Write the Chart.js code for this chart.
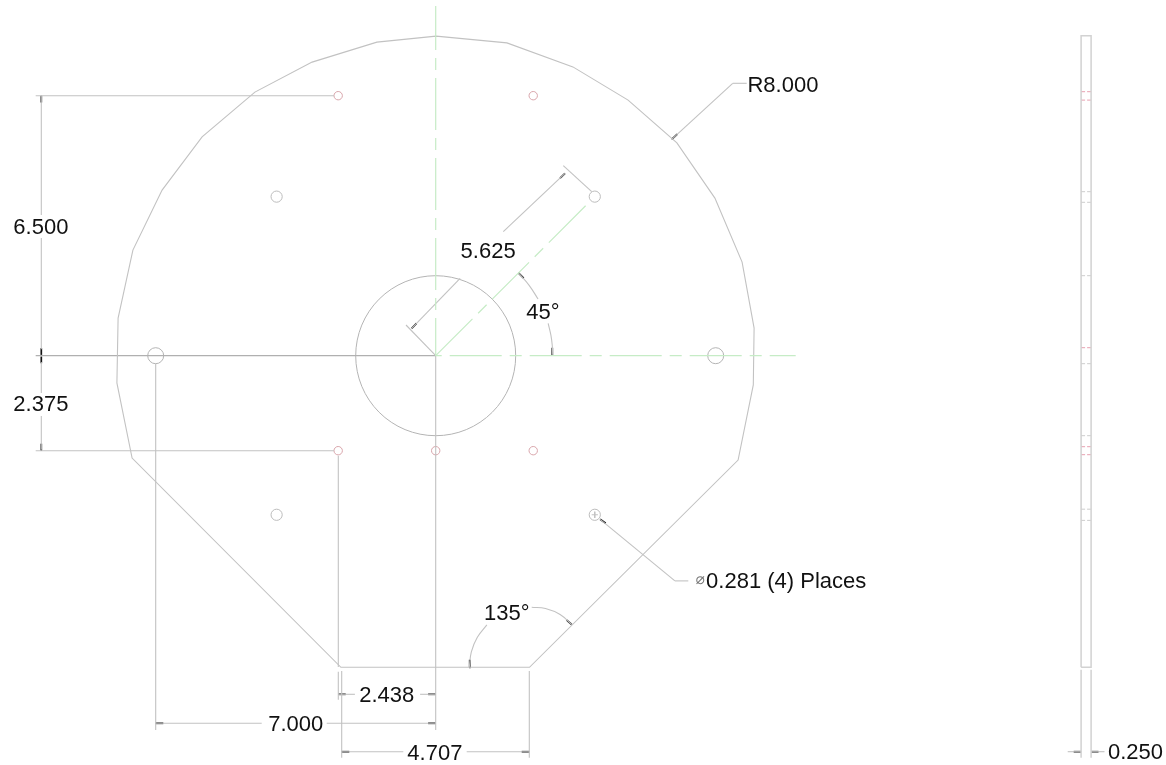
<!DOCTYPE html>
<html>
<head>
<meta charset="utf-8">
<style>
html,body{margin:0;padding:0;background:#fff;overflow:hidden}
canvas{display:block;filter:blur(0.5px)}
</style>
<script src="https://cdn.jsdelivr.net/npm/chart.js@4"></script>
</head>
<body>
<canvas id="c" width="1166" height="765"></canvas>
<script>
// All drawing values are in inches, measured from the centre of the plate.
const plateOutline = [[0.01,7.99],[1.78,7.82],[3.43,7.22],[4.81,6.39],[6.03,5.32],[6.98,3.94],[7.66,2.34],[7.96,0.69],[7.94,-0.73],[7.56,-2.61],[2.345,-7.79],[-2.37,-7.79],[-7.59,-2.56],[-7.97,-0.68],[-7.94,0.94],[-7.57,2.64],[-6.84,4.14],[-5.84,5.47],[-4.52,6.59],[-3.09,7.34],[-1.47,7.84],[0.01,7.99]];
const sideView = [[16.135,-7.79],[16.135,8.0],[16.385,8.0],[16.385,-7.79],[16.135,-7.79]];
const sideExtensions = [[16.135,-7.85,16.135,-10.05],[16.385,-7.85,16.385,-10.05]];
const sidePinkHidden = [6.6,6.39,0.2,-2.275,-2.475];
const sideGreyHidden = [4.1,3.835,2.0,-0.2,-2.0,-3.837,-4.117];
const sideEdges = [16.135,16.385];

const smallHoles = [[-2.438,6.5],[2.438,6.5],[-2.438,-2.375],[0,-2.375],[2.438,-2.375]];
const mountHoles = [[-3.977,3.977],[3.977,3.977],[-3.977,-3.977],[3.977,-3.977]];
const largeHoles = [[-7,0],[7,0]];
const centreBore = [[0,0]];
const holeCross = [[3.9,-3.977,4.055,-3.977],[3.977,-3.9,3.977,-4.055]];

const centreLineV = [[0,8.74],[0,0]];
const centreLineH = [[0,0],[9,0]];
const centreLineD = [[0,0],[3.87,3.87]];

const dimensionLines = [
  [-10,6.5,-2.54,6.5],[-10,-2.375,-2.54,-2.375],
  [-9.86,6.5,-9.86,3.52],[-9.86,2.94,-9.86,0.16],[-9.86,-0.16,-9.86,-0.93],[-9.86,-1.51,-9.86,-2.35],
  [-7,-0.2,-7,-9.36],[-7,-9.19,-4.35,-9.19],[-2.725,-9.19,0,-9.19],
  [-2.435,-2.5,-2.435,-7.78],[-2.435,-7.9,-2.435,-8.6],
  [-2.35,-7.88,-2.35,-10.05],[2.34,-7.88,2.34,-10.05],
  [-2.435,-8.465,-2.02,-8.465],[-0.39,-8.465,0,-8.465],
  [-2.35,-9.9,-0.81,-9.9],[0.775,-9.9,2.34,-9.9],
  [16.135,-9.9,15.8,-9.9],[16.385,-9.9,16.72,-9.9],
  [-0.6,0.685,0.61,1.935],[1.69,3.1,3.2325,4.56],
  [0,0,-0.7425,0.7675],[3.9,4.1,3.19,4.75],
  [5.9,5.41,7.425,6.81],[7.425,6.81,7.775,6.81],
  [4.11,-4.09,5.98,-5.63],[5.98,-5.63,6.315,-5.63],
  [0,0,0,-9.36]
];
const darkLines = [[-10,0,0,0]];
const angleArcs = [
  [[2.925,0.02],[2.914,0.255],[2.881,0.508],[2.812,0.806]],
  [[2.558,1.418],[2.336,1.76],[2.068,2.068]],
  [[0.84,-7.79],[0.891,-7.402],[1.041,-7.04],[1.279,-6.729]],
  [[2.4,-6.29],[2.745,-6.32],[3.11,-6.47],[3.4,-6.72]]
];
const arrowHeads = [
  [-9.86,6.5,-9.86,6.33],[-9.86,0.02,-9.86,0.19],[-9.86,-0.02,-9.86,-0.19],[-9.86,-2.375,-9.86,-2.2],
  [-7,-9.19,-6.81,-9.19],[0,-9.19,-0.19,-9.19],
  [-2.435,-8.465,-2.25,-8.465],[0,-8.465,-0.19,-8.465],
  [-2.35,-9.9,-2.16,-9.9],[2.34,-9.9,2.15,-9.9],
  [16.135,-9.9,15.95,-9.9],[16.385,-9.9,16.57,-9.9],
  [-0.6,0.685,-0.48,0.81],[3.2325,4.56,3.11,4.44],
  [2.925,0.02,2.915,0.2],[2.068,2.068,2.2,1.94],
  [0.84,-7.79,0.85,-7.6],[3.4,-6.72,3.275,-6.61],
  [5.9,5.41,6.04,5.54],[4.11,-4.09,4.25,-4.19]
];

const labelTexts = ["6.500","2.375","5.625","45°","R8.000","135°","2.438","7.000","4.707","0.250","0.281 (4) Places"];
const labelX = [-9.87,-9.87,1.31,2.68,8.68,1.775,-1.225,-3.5,-0.02,17.495,6.76];
const labelY = [3.19,-1.225,2.605,1.065,6.755,-6.46,-8.515,-9.235,-9.95,-9.935,-5.66];
const labelAlign = ["center","center","center","center","center","center","center","center","center","center","left"];
const diameterSymbol = {text:"⌀",x:6.61,y:-5.6};

const GREY='#c2c2c2', DARK='#b0b0b0', GREEN='#c6ecc6', PINK='#d8a4aa', INK='#111';
const pts = a => a.map(p=>({x:p[0],y:p[1]}));
const line = (data,color,width,extra) => Object.assign({type:'scatter',data,showLine:true,pointRadius:0,borderColor:color,borderWidth:width,fill:false},extra||{});
const seg = s => pts([[s[0],s[1]],[s[2],s[3]]]);
const ring = (data,r,color) => ({type:'scatter',data:pts(data),showLine:false,pointRadius:r,pointHoverRadius:r,pointStyle:'circle',pointBackgroundColor:'rgba(0,0,0,0)',pointBorderColor:color,pointBorderWidth:1});
const DASH=[52,8,12,8];

const datasets = [
  line(pts(centreLineV),GREEN,1.2,{borderDash:DASH,borderDashOffset:8}),
  line(pts(centreLineH),GREEN,1.2,{borderDash:DASH,borderDashOffset:66}),
  line(pts(centreLineD),GREEN,1.2,{borderDash:DASH}),
  line(pts(plateOutline),GREY,1.1),
  line(pts(sideView),'#d2d2d2',1.5),
  ...sideExtensions.map(s=>line(seg(s),'#d2d2d2',1.5)),
  ...sidePinkHidden.map(y=>line(pts([[sideEdges[0],y],[sideEdges[1],y]]),'#e8a0b0',1,{borderDash:[4,2]})),
  ...sideGreyHidden.map(y=>line(pts([[sideEdges[0],y],[sideEdges[1],y]]),'#cdcdcd',1,{borderDash:[4,2]})),
  ...dimensionLines.map(s=>line(seg(s),GREY,1.1)),
  ...darkLines.map(s=>line(seg(s),DARK,1.3)),
  ...angleArcs.map(a=>line(pts(a),GREY,1.1,{tension:0.4})),
  ...holeCross.map(s=>line(seg(s),GREY,1)),
  ...arrowHeads.map(s=>line(seg(s),INK,1.7)),
  ring(smallHoles,4.2,PINK),
  ring(mountHoles,5.6,'#bcbcbc'),
  ring(largeHoles,8,'#b4b4b4'),
  ring(centreBore,80,'#b4b4b4')
];

const textPlugin = {
  id:'drawingText',
  afterDatasetsDraw(chart){
    const c=chart.ctx, X=chart.scales.x, Y=chart.scales.y;
    c.save();
    c.textBaseline='middle';
    c.fillStyle=INK;
    c.font='22px "Liberation Sans", Arial, sans-serif';
    labelTexts.forEach((t,i)=>{
      c.textAlign=labelAlign[i];
      c.fillText(t,X.getPixelForValue(labelX[i]),Y.getPixelForValue(labelY[i]));
    });
    c.fillStyle='#777';
    c.textAlign='center';
    c.font='15px "DejaVu Sans", sans-serif';
    c.fillText(diameterSymbol.text,X.getPixelForValue(diameterSymbol.x),Y.getPixelForValue(diameterSymbol.y));
    c.restore();
  }
};

new Chart(document.getElementById('c'),{
  type:'scatter',
  data:{datasets},
  plugins:[textPlugin],
  options:{
    responsive:false,
    animation:false,
    events:[],
    layout:{padding:0,autoPadding:false},
    plugins:{legend:{display:false},tooltip:{enabled:false},title:{display:false}},
    scales:{
      x:{type:'linear',display:false,min:-10.8925,max:18.2575},
      y:{type:'linear',display:false,min:-10.2325,max:8.8925}
    }
  }
});
</script>
</body>
</html>
